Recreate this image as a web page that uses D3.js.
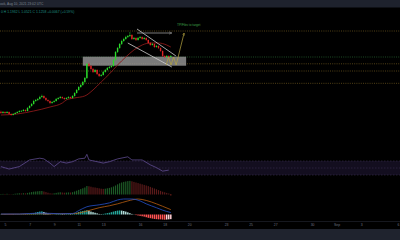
<!DOCTYPE html>
<html>
<head>
<meta charset="utf-8">
<script src="https://cdn.jsdelivr.net/npm/d3@7"></script>
<style>
  html, body { margin: 0; background: #000; overflow: hidden; }
  text { font-family: "Liberation Sans", Arial, sans-serif; }
</style>
</head>
<body>
<div id="chart"></div>
<script>
// 4h candles [open, high, low, close], first one opens at candleStart
const candleStart = "2021-08-04T16:00:00Z";
const candles = [
  [1.190, 1.205, 1.165, 1.175], [1.175, 1.200, 1.168, 1.188], [1.188, 1.195, 1.165, 1.175], [1.175, 1.198, 1.170, 1.188],
  [1.188, 1.192, 1.152, 1.163], [1.163, 1.170, 1.140, 1.150], [1.150, 1.172, 1.145, 1.163], [1.163, 1.185, 1.158, 1.175],
  [1.175, 1.196, 1.170, 1.188], [1.188, 1.210, 1.180, 1.200], [1.200, 1.212, 1.188, 1.201], [1.200, 1.225, 1.195, 1.213],
  [1.213, 1.220, 1.190, 1.200], [1.200, 1.248, 1.196, 1.238], [1.238, 1.272, 1.230, 1.263], [1.263, 1.300, 1.255, 1.288],
  [1.288, 1.340, 1.280, 1.325], [1.325, 1.350, 1.315, 1.338], [1.338, 1.362, 1.325, 1.350], [1.350, 1.390, 1.342, 1.375],
  [1.375, 1.405, 1.365, 1.388], [1.388, 1.395, 1.352, 1.363], [1.363, 1.370, 1.325, 1.338], [1.338, 1.345, 1.310, 1.325],
  [1.325, 1.332, 1.285, 1.300], [1.300, 1.322, 1.290, 1.313], [1.313, 1.335, 1.305, 1.325], [1.325, 1.362, 1.318, 1.350],
  [1.350, 1.372, 1.342, 1.363], [1.363, 1.388, 1.355, 1.375], [1.375, 1.382, 1.350, 1.363], [1.363, 1.370, 1.340, 1.350],
  [1.350, 1.372, 1.345, 1.363], [1.363, 1.385, 1.355, 1.375], [1.375, 1.380, 1.352, 1.363], [1.363, 1.398, 1.355, 1.388],
  [1.388, 1.435, 1.380, 1.425], [1.425, 1.475, 1.418, 1.463], [1.463, 1.512, 1.455, 1.500], [1.500, 1.540, 1.490, 1.525],
  [1.525, 1.575, 1.515, 1.563], [1.563, 1.625, 1.552, 1.613], [1.613, 1.800, 1.600, 1.788], [1.788, 1.805, 1.750, 1.763],
  [1.763, 1.775, 1.712, 1.725], [1.725, 1.738, 1.675, 1.688], [1.688, 1.725, 1.680, 1.713], [1.713, 1.720, 1.650, 1.663],
  [1.663, 1.672, 1.625, 1.638], [1.638, 1.662, 1.630, 1.650], [1.650, 1.700, 1.642, 1.688], [1.688, 1.725, 1.680, 1.713],
  [1.713, 1.750, 1.705, 1.738], [1.738, 1.762, 1.728, 1.750], [1.750, 1.775, 1.740, 1.763], [1.763, 1.850, 1.755, 1.838],
  [1.838, 1.950, 1.830, 1.938], [1.938, 2.000, 1.925, 1.988], [1.988, 2.050, 1.978, 2.038], [2.038, 2.090, 2.025, 2.075],
  [2.075, 2.115, 2.065, 2.100], [2.100, 2.140, 2.090, 2.125], [2.125, 2.150, 2.112, 2.138], [2.138, 2.188, 2.125, 2.150],
  [2.150, 2.160, 2.088, 2.100], [2.100, 2.125, 2.090, 2.113], [2.113, 2.120, 2.075, 2.088], [2.088, 2.125, 2.080, 2.113],
  [2.113, 2.138, 2.105, 2.125], [2.125, 2.132, 2.090, 2.100], [2.100, 2.125, 2.092, 2.113], [2.113, 2.120, 2.078, 2.088],
  [2.088, 2.095, 2.040, 2.050], [2.050, 2.062, 2.015, 2.025], [2.025, 2.050, 2.018, 2.038], [2.038, 2.045, 1.990, 2.000],
  [2.000, 2.025, 1.992, 2.013], [2.013, 2.020, 1.975, 1.988], [1.988, 1.995, 1.940, 1.950], [1.950, 1.958, 1.875, 1.888],
  [1.888, 1.895, 1.862, 1.875], [1.875, 1.900, 1.868, 1.888], [1.888, 1.895, 1.865, 1.875], [1.875, 1.898, 1.870, 1.888]
];

// moving average, [candle index, value]
const maPoints = [
  [0, 1.150], [8, 1.163], [16, 1.200], [24, 1.250], [30, 1.300], [32, 1.338], [36, 1.363], [41, 1.388],
  [45, 1.463], [49, 1.563], [53, 1.663], [57, 1.775], [61, 1.875], [65, 1.963], [69, 2.025], [73, 2.050],
  [77, 2.050], [81, 2.025], [83, 2.000]
];

// RSI, [candle index, value]
const rsiPoints = [
  [0, 54], [4, 47], [9, 54], [14, 73], [19, 78], [21, 76], [24, 64], [26, 54], [29, 68], [32, 64],
  [35, 68], [38, 76], [41, 78], [42, 89], [43, 73], [47, 68], [50, 64], [53, 68], [57, 76], [62, 82],
  [64, 73], [69, 73], [73, 59], [76, 51], [79, 41], [82, 44]
];

// upper histogram pane, one value per candle
const oscHist = [
  0.5, 0.6, 0.5, 0.7, 0.4, 0.3, 0.5, 0.8, 1.0, 1.2,
  1.1, 1.3, 1.2, 1.6, 2.0, 2.4, 2.8, 3.0, 3.2, 3.4,
  3.5, 3.0, 2.4, 1.8, 1.2, 1.0, 1.2, 1.6, 2.0, 2.2,
  2.0, 1.8, 1.9, 2.1, 2.0, 2.3, 3.0, 3.8, 4.6, 5.4,
  6.2, 7.0, 8.5, 8.2, 7.8, 7.2, 7.0, 6.6, 6.2, 5.8,
  5.6, 5.8, 6.2, 6.6, 7.2, 8.0, 9.0, 10.2, 11.2, 12.0,
  12.6, 13.0, 13.4, 13.6, 13.2, 12.6, 12.0, 11.4, 10.8, 10.2,
  9.6, 9.0, 8.4, 7.6, 6.8, 6.0, 5.2, 4.4, 3.6, 2.8,
  2.2, 1.6, 1.0, -0.8
];

// MACD pane
const macdLine = [
  [0, 0.5], [9, 0.5], [19, 1.5], [29, 0.8], [35, 1.0], [38, 4.0], [42, 8.0], [48, 10.0], [53, 12.0],
  [57, 15.0], [60, 16.0], [64, 16.0], [68, 14.0], [71, 11.0], [76, 7.0], [79, 4.5], [83, 2.0]
];
const signalLine = [
  [0, 0.3], [9, 0.4], [19, 0.8], [29, 0.8], [35, 0.9], [38, 1.5], [42, 3.5], [48, 7.0], [53, 9.0],
  [57, 11.0], [62, 14.0], [67, 16.0], [71, 14.5], [76, 11.0], [79, 8.5], [83, 5.0]
];
const macdHist = [
  0.2, 0.2, 0.1, 0.2, -0.1, -0.2, -0.1, 0.1, 0.2, 0.3, 0.3, 0.4, 0.3, 0.5, 0.7, 0.9,
  1.4, 2.0, 2.6, 3.0, 3.2, 2.6, 1.8, 1.0, 0.4,
  0.2, 0.3, 0.5, 0.6, 0.7, 0.5, 0.4, 0.5, 0.6, 0.5, 0.8, 1.2, 1.8,
  2.6, 3.2, 3.6, 4.0, 4.4, 3.8, 3.0, 2.4, 1.8, 1.2,
  0.6, 0.4, 0.6, 1.0, 1.4, 1.8, 2.4,
  3.0, 3.6, 4.0, 4.2, 4.0, 3.6, 3.0, 2.2, 1.4, 0.6,
  0.0, -0.6, -1.0, -1.4, -1.8, -2.2,
  -2.8, -3.4, -3.8, -4.2, -4.6, -4.8, -5.0, -5.0, -5.2, -5.4, -5.2, -5.0, -4.8
];

// horizontal levels
const levels = [2.200, 1.875, 1.790, 1.700, 1.546];
const levelColors = ["#5a4718", "#1f5428", "#5a4718", "#5a4718", "#5a4718"];

// drawings
const zone = { from: "2021-08-11T08:00:00Z", to: "2021-08-19T18:00:00Z", top: 1.879, bottom: 1.766 };
const wedgeUpper = [["2021-08-15T18:00:00Z", 2.225], ["2021-08-18T22:00:00Z", 1.888]];
const wedgeLower = [["2021-08-15T00:00:00Z", 2.050], ["2021-08-18T14:00:00Z", 1.750]];
const targetArrow = [["2021-08-15T18:00:00Z", 2.175], ["2021-08-18T14:00:00Z", 2.175]];
const pathArrow = [
  ["2021-08-18T03:00:00Z", 1.775], ["2021-08-18T07:30:00Z", 1.875], ["2021-08-18T12:30:00Z", 1.775],
  ["2021-08-18T17:30:00Z", 1.875], ["2021-08-18T22:30:00Z", 1.775], ["2021-08-19T14:00:00Z", 2.175]
];
const note = { date: "2021-08-19T00:00:00Z", price: 2.262, text: "TP/Fibs to target" };

const tickDates = ["2021-08-05", "2021-08-07", "2021-08-09", "2021-08-11", "2021-08-13", "2021-08-16",
  "2021-08-18", "2021-08-20", "2021-08-23", "2021-08-25", "2021-08-27", "2021-08-30", "2021-09-01",
  "2021-09-03", "2021-09-06"];
const tickLabels = ["5", "7", "9", "11", "13", "16", "18", "20", "23", "25", "27", "30", "Sep", "3", "6"];

const headerText = "ook, Aug 10, 2021 23:02 UTC";
const ohlcText = "0  H 1.1932  L 1.0521  C 1.1258  +0.0067 (+0.59%)";

const width = 400, height = 240;
const H4 = 4 * 3600 * 1000;
const t0 = new Date(candleStart).getTime();
const timeOf = i => new Date(t0 + i * H4);

const svg = d3.select("#chart").append("svg")
  .attr("width", width).attr("height", height)
  .style("display", "block").style("background", "#000");

const x = d3.scaleUtc()
  .domain([new Date("2021-08-05T00:00:00Z"), new Date("2021-09-06T00:00:00Z")])
  .range([5, 398]);
const y = d3.scaleLinear().domain([1.2, 2.2]).range([111, 31]);
const yRsi = d3.scaleLinear().domain([30, 70]).range([175, 161]);
const yOsc = d3.scaleLinear().domain([0, 14]).range([194.5, 180.5]);
const yMacd = d3.scaleLinear().domain([0, 16]).range([214.5, 199]);

// header / footer bars
svg.append("rect").attr("x", 0).attr("y", 0).attr("width", width).attr("height", 7.5).attr("fill", "#1e222d");
svg.append("rect").attr("x", 0).attr("y", 229).attr("width", width).attr("height", 11).attr("fill", "#1f232e");
svg.append("line").attr("x1", 0).attr("x2", width).attr("y1", 221.5).attr("y2", 221.5)
  .attr("stroke", "#16181f").attr("stroke-width", 1);

svg.append("text").attr("x", 0).attr("y", 5).attr("font-size", 3.3).attr("fill", "#7c8290").text(headerText);
svg.append("text").attr("x", 1).attr("y", 13).attr("font-size", 3.4).attr("fill", "#1f8f80").text(ohlcText);

// levels
svg.append("g").selectAll("line").data(levels).join("line")
  .attr("x1", 0).attr("x2", width)
  .attr("y1", d => y(d)).attr("y2", d => y(d))
  .attr("stroke", (d, i) => levelColors[i])
  .attr("stroke-width", 0.9)
  .attr("stroke-dasharray", "1,1.2");

// zone box
svg.append("rect")
  .attr("x", x(new Date(zone.from))).attr("width", x(new Date(zone.to)) - x(new Date(zone.from)))
  .attr("y", y(zone.top)).attr("height", y(zone.bottom) - y(zone.top))
  .attr("fill", "#9a9a9a").attr("opacity", 0.8);

// moving average
const toPt = ([i, v]) => [x(timeOf(i)), v];
svg.append("path")
  .datum(maPoints)
  .attr("fill", "none").attr("stroke", "#8a1a1a").attr("stroke-width", 0.9)
  .attr("d", d3.line().x(d => x(timeOf(d[0]))).y(d => y(d[1])).curve(d3.curveMonotoneX));

// candles
const cw = 1.4;
const cg = svg.append("g");
cg.selectAll("line").data(candles).join("line")
  .attr("x1", (d, i) => x(timeOf(i))).attr("x2", (d, i) => x(timeOf(i)))
  .attr("y1", d => y(d[1])).attr("y2", d => y(d[2]))
  .attr("stroke", d => d[3] >= d[0] ? "#2bd92b" : "#e02424")
  .attr("stroke-width", 0.5);
cg.selectAll("rect").data(candles).join("rect")
  .attr("x", (d, i) => x(timeOf(i)) - cw / 2).attr("width", cw)
  .attr("y", d => y(Math.max(d[0], d[3])))
  .attr("height", d => Math.max(0.6, Math.abs(y(d[0]) - y(d[3]))))
  .attr("fill", d => d[3] >= d[0] ? "#2bd92b" : "#e02424");

// drawings
const dl = d3.line().x(d => x(new Date(d[0]))).y(d => y(d[1]));
const defs = svg.append("defs");
function arrowHead(id, color) {
  defs.append("marker").attr("id", id).attr("viewBox", "0 0 10 10").attr("refX", 9).attr("refY", 5)
    .attr("markerWidth", 4).attr("markerHeight", 4).attr("orient", "auto")
    .append("path").attr("d", "M0,1 L9,5 L0,9").attr("fill", "none").attr("stroke", color).attr("stroke-width", 1.5);
}
arrowHead("ag", "#9a9a9a");
arrowHead("ay", "#b8a640");

[wedgeUpper, wedgeLower].forEach(w => {
  svg.append("path").datum(w).attr("d", dl).attr("fill", "none")
    .attr("stroke", "#cfcfcf").attr("stroke-width", 0.8);
});
svg.append("path").datum(targetArrow).attr("d", dl).attr("fill", "none")
  .attr("stroke", "#9a9a9a").attr("stroke-width", 0.8).attr("marker-end", "url(#ag)");
svg.append("path").datum(pathArrow).attr("d", dl).attr("fill", "none")
  .attr("stroke", "#b8a640").attr("stroke-width", 0.7).attr("marker-end", "url(#ay)");
svg.append("text").attr("x", x(new Date(note.date))).attr("y", y(note.price))
  .attr("font-size", 3.2).attr("fill", "#3fa048").text(note.text);

// RSI pane
svg.append("rect").attr("x", 0).attr("width", width)
  .attr("y", yRsi(70)).attr("height", yRsi(30) - yRsi(70)).attr("fill", "#130e1f");
svg.append("g").selectAll("line").data([70, 50, 30]).join("line")
  .attr("x1", 0).attr("x2", width).attr("y1", d => yRsi(d)).attr("y2", d => yRsi(d))
  .attr("stroke", "#3a3152").attr("stroke-width", 0.6).attr("stroke-dasharray", "1.5,1.5");
svg.append("path").datum(rsiPoints)
  .attr("fill", "none").attr("stroke", "#6a55a0").attr("stroke-width", 0.7)
  .attr("d", d3.line().x(d => x(timeOf(d[0]))).y(d => yRsi(d[1])));

// oscillator histogram
svg.append("g").selectAll("rect").data(oscHist).join("rect")
  .attr("x", (d, i) => x(timeOf(i)) - 0.6).attr("width", 1.2)
  .attr("y", d => Math.min(yOsc(d), yOsc(0)))
  .attr("height", d => Math.abs(yOsc(d) - yOsc(0)))
  .attr("fill", (d, i) => d < 0 ? "#c0392b" : (i > 0 && d < oscHist[i - 1] ? "#5a1a1a" : "#1d5a26"));

// MACD pane
svg.append("g").selectAll("rect").data(macdHist).join("rect")
  .attr("x", (d, i) => x(timeOf(i)) - 0.75).attr("width", 1.5)
  .attr("y", d => Math.min(yMacd(d), yMacd(0)))
  .attr("height", d => Math.max(0.2, Math.abs(yMacd(d) - yMacd(0))))
  .attr("fill", (d, i) => {
    const prev = i > 0 ? macdHist[i - 1] : d;
    if (d >= 0) return d >= prev ? "#26a69a" : "#b2dfdb";
    return d <= prev ? "#ff5252" : "#ffcdd2";
  });
const ml = d3.line().x(d => x(timeOf(d[0]))).y(d => yMacd(d[1])).curve(d3.curveMonotoneX);
svg.append("path").datum(signalLine).attr("d", ml).attr("fill", "none")
  .attr("stroke", "#b85e12").attr("stroke-width", 0.8);
svg.append("path").datum(macdLine).attr("d", ml).attr("fill", "none")
  .attr("stroke", "#2451c9").attr("stroke-width", 0.8);

// time axis
const axis = d3.axisBottom(x)
  .tickValues(tickDates.map(d => new Date(d + "T00:00:00Z")))
  .tickFormat((d, i) => tickLabels[i])
  .tickSize(0).tickPadding(0);
const ga = svg.append("g").attr("transform", "translate(0,223.5)").call(axis);
ga.select(".domain").remove();
ga.selectAll("text").attr("font-size", 3.4).attr("fill", "#6f7480")
  .attr("font-family", "Liberation Sans, Arial, sans-serif");
</script>
</body>
</html>
